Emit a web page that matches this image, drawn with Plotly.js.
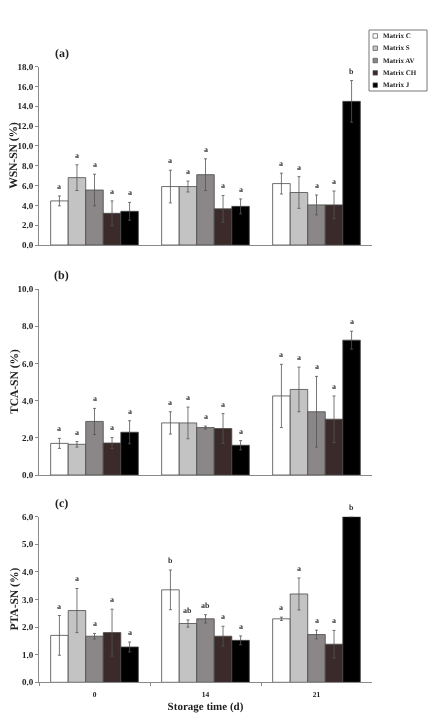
<!DOCTYPE html>
<html><head><meta charset="utf-8">
<script src="https://cdn.plot.ly/plotly-3.0.1.min.js"></script>
<style>html,body{margin:0;padding:0;background:#fff}#chart{width:429px;height:713px;will-change:transform}#chart text{text-rendering:geometricPrecision}</style>
</head><body><div id="chart"></div>
<script>
// ---- data ----
const categories = ['0', '14', '21'];
const seriesNames = ['Matrix C', 'Matrix S', 'Matrix AV', 'Matrix CH', 'Matrix J'];
const seriesColors = ['#ffffff', '#c3c3c3', '#8b8688', '#3b2a2a', '#000000'];

// (a) WSN-SN (%)
const wsnC = [4.45, 5.9, 6.2],   wsnCErr = [0.5, 1.65, 1.05],  wsnCSig = ['a', 'a', 'a'];
const wsnS = [6.8, 5.9, 5.3],    wsnSErr = [1.3, 0.55, 1.6],   wsnSSig = ['a', 'a', 'a'];
const wsnAV = [5.55, 7.1, 4.05], wsnAVErr = [1.6, 1.6, 1.0],   wsnAVSig = ['a', 'a', 'a'];
const wsnCH = [3.2, 3.65, 4.05], wsnCHErr = [1.25, 1.35, 1.4], wsnCHSig = ['a', 'a', 'a'];
const wsnJ = [3.4, 3.9, 14.5],   wsnJErr = [0.9, 0.75, 2.1],   wsnJSig = ['a', 'a', 'b'];

// (b) TCA-SN (%)
const tcaC = [1.7, 2.8, 4.25],   tcaCErr = [0.27, 0.6, 1.7],   tcaCSig = ['a', 'a', 'a'];
const tcaS = [1.65, 2.8, 4.6],   tcaSErr = [0.15, 0.85, 1.2],  tcaSSig = ['a', 'a', 'a'];
const tcaAV = [2.88, 2.55, 3.4], tcaAVErr = [0.7, 0.08, 1.9],  tcaAVSig = ['a', 'a', 'a'];
const tcaCH = [1.72, 2.5, 3.0],  tcaCHErr = [0.3, 0.8, 1.25],  tcaCHSig = ['a', 'a', 'a'];
const tcaJ = [2.3, 1.6, 7.25],   tcaJErr = [0.62, 0.25, 0.48], tcaJSig = ['a', 'a', 'a'];

// (c) PTA-SN (%)
const ptaC = [1.7, 3.35, 2.3],   ptaCErr = [0.72, 0.72, 0.06], ptaCSig = ['a', 'b', 'a'];
const ptaS = [2.6, 2.13, 3.2],   ptaSErr = [0.8, 0.13, 0.58],  ptaSSig = ['a', 'ab', 'a'];
const ptaAV = [1.67, 2.3, 1.73], ptaAVErr = [0.1, 0.15, 0.16], ptaAVSig = ['a', 'ab', 'a'];
const ptaCH = [1.8, 1.67, 1.38], ptaCHErr = [0.85, 0.36, 0.5], ptaCHSig = ['a', 'a', 'a'];
const ptaJ = [1.28, 1.52, 6.0],  ptaJErr = [0.18, 0.16, 0],    ptaJSig = ['a', 'a', 'b'];

const panelLabels = ['(a)', '(b)', '(c)'];
const yTitles = ['WSN-SN (%)', 'TCA-SN (%)', 'PTA-SN (%)'];
const xTitle = 'Storage time (d)';

// ---- build ----
const W = 429, H = 713;
const FONT = 'Liberation Serif';
const panels = [
  {vals: [wsnC, wsnS, wsnAV, wsnCH, wsnJ], errs: [wsnCErr, wsnSErr, wsnAVErr, wsnCHErr, wsnJErr], sig: [wsnCSig, wsnSSig, wsnAVSig, wsnCHSig, wsnJSig],
   range: [0, 18], dtick: 2, top: 66.7, bottom: 245},
  {vals: [tcaC, tcaS, tcaAV, tcaCH, tcaJ], errs: [tcaCErr, tcaSErr, tcaAVErr, tcaCHErr, tcaJErr], sig: [tcaCSig, tcaSSig, tcaAVSig, tcaCHSig, tcaJSig],
   range: [0, 10], dtick: 2, top: 289, bottom: 475},
  {vals: [ptaC, ptaS, ptaAV, ptaCH, ptaJ], errs: [ptaCErr, ptaSErr, ptaAVErr, ptaCHErr, ptaJErr], sig: [ptaCSig, ptaSSig, ptaAVSig, ptaCHSig, ptaJSig],
   range: [0, 6], dtick: 1, top: 516.7, bottom: 682.3}
];

const xLeft = 39, xRight = 372;
const bargap = 0.21;
const barW = (xRight - xLeft) / categories.length * (1 - bargap) / seriesNames.length;

const traces = [];
const annotations = [];
const layout = {
  width: W, height: H,
  margin: {l: 0, r: 0, t: 0, b: 0},
  paper_bgcolor: '#fff', plot_bgcolor: '#fff',
  barmode: 'group', bargap: bargap, bargroupgap: 0,
  showlegend: false,
  font: {family: FONT, color: '#222'},
  shapes: []
};

panels.forEach((p, pi) => {
  const n = pi === 0 ? '' : String(pi + 1);
  const xa = 'x' + n, ya = 'y' + n;
  p.vals.forEach((v, si) => {
    traces.push({
      type: 'bar', x: categories, y: v, name: seriesNames[si],
      xaxis: xa, yaxis: ya,
      marker: {color: seriesColors[si], line: {color: '#4a4a4a', width: 0.8}},
      error_y: {type: 'data', array: p.errs[si], visible: true, color: '#555', thickness: 0.8, width: 1.5},
      showlegend: false, hoverinfo: 'skip'
    });
    categories.forEach((c, ci) => {
      annotations.push({
        xref: xa, yref: ya, x: ci, y: v[ci] + p.errs[si][ci],
        xshift: (si - 2) * barW, yshift: 3,
        text: p.sig[si][ci], showarrow: false, yanchor: 'bottom', xanchor: 'center',
        font: {family: FONT, size: 8, weight: 'bold', color: '#333'}
      });
    });
  });
  const last = pi === 2;
  layout['xaxis' + n] = {
    domain: [xLeft / W, xRight / W], anchor: ya, type: 'category',
    range: [-0.5, 2.5], showgrid: false, zeroline: false,
    showline: true, linecolor: '#8a8a8a', linewidth: 1,
    ticks: last ? 'outside' : '', ticklen: 3, tickcolor: '#8a8a8a', tickson: 'boundaries',
    showticklabels: last, ticklabelstandoff: 5,
    tickfont: {family: FONT, size: 7.5, weight: 'bold', color: '#222'},
    title: last ? {text: xTitle, font: {family: FONT, size: 11, weight: 'bold', color: '#222'}, standoff: 6} : undefined
  };
  layout['yaxis' + n] = {
    domain: [1 - p.bottom / H, 1 - p.top / H], anchor: xa,
    range: p.range, dtick: p.dtick, tick0: 0, tickformat: '.1f',
    showgrid: false, zeroline: false, showline: true, linecolor: '#8a8a8a', linewidth: 1,
    ticks: 'outside', ticklen: 3, tickcolor: '#8a8a8a',
    tickfont: {family: FONT, size: 9, weight: 'bold', color: '#222'}
  };
  annotations.push({
    xref: 'paper', yref: 'paper', x: 14 / W, y: 1 - (p.top + p.bottom) / 2 / H,
    text: yTitles[pi], textangle: -90, showarrow: false, xanchor: 'center', yanchor: 'middle',
    font: {family: FONT, size: 11.5, weight: 'bold', color: '#222'}
  });
  annotations.push({
    xref: 'paper', yref: 'paper', x: 62 / W, y: 1 - (p.top - 14) / H,
    text: panelLabels[pi], showarrow: false, xanchor: 'center', yanchor: 'middle',
    font: {family: FONT, size: 12, weight: 'bold', color: '#222'}
  });
});

// legend box (manual, compact like the reference)
const lgX0 = 369, lgX1 = 427, lgY0 = 30, lgY1 = 91, lgStep = 12.3, lgFirst = 36;
layout.shapes.push({type: 'rect', xref: 'paper', yref: 'paper',
  x0: lgX0 / W, x1: lgX1 / W, y0: 1 - lgY1 / H, y1: 1 - lgY0 / H,
  line: {color: '#777', width: 1}, fillcolor: '#fff'});
seriesNames.forEach((nm, si) => {
  const cy = lgFirst + si * lgStep;
  layout.shapes.push({type: 'rect', xref: 'paper', yref: 'paper',
    x0: 373 / W, x1: 377.5 / W, y0: 1 - (cy + 2.2) / H, y1: 1 - (cy - 2.3) / H,
    line: {color: '#555', width: 0.7}, fillcolor: seriesColors[si]});
  annotations.push({xref: 'paper', yref: 'paper', x: 380.5 / W, y: 1 - cy / H,
    text: nm, showarrow: false, xanchor: 'left', yanchor: 'middle',
    font: {family: FONT, size: 7, weight: 'bold', color: '#222'}});
});

layout.annotations = annotations;
Plotly.newPlot('chart', traces, layout, {displayModeBar: false, staticPlot: true});
</script>
</body></html>
